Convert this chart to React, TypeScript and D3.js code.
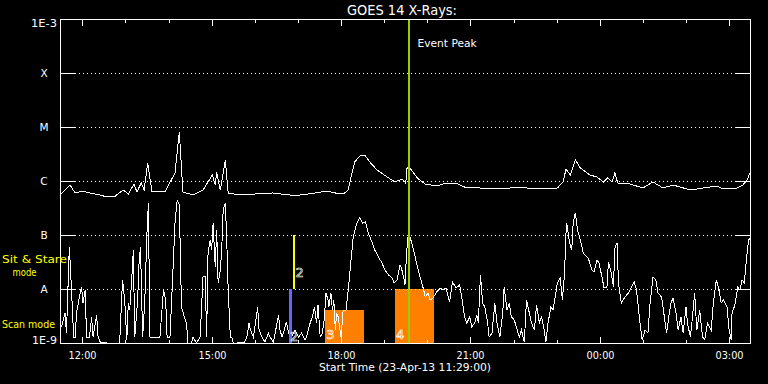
import React from "react";
import * as d3 from "d3";

// ---- data ----
const START = Date.UTC(2013, 3, 23, 11, 29, 0);
const DURATION_MIN = 960;

// GOES long channel (1-8 A), minutes since start / flux W m^-2
const longTime = [1,14,21,31,42,56,65,77,88,95,103,107,113,117,122,128,146,160,166,171,185,199,212,216,218,223,230,234,250,271,296,320,334,355,372,383,394,401,404,410,417,424,431,441,455,466,476,481,483,487,497,508,525,533,550,566,584,602,626,650,668,692,700,704,710,717,724,737,747,756,762,768,772,776,793,811,825,839,853,877,895,914,922,942,950,956,960];
const longFlux = [5.74e-7,8.43e-7,6.0e-7,6.53e-7,6.0e-7,5.5e-7,5.06e-7,5.27e-7,6.81e-7,5.74e-7,
8.8e-7,6.26e-7,9.18e-7,6.81e-7,2.15e-6,6.26e-7,6.26e-7,1.41e-6,8.1e-6,6.26e-7,
5.5e-7,6.81e-7,1.29e-6,8.43e-7,1.47e-6,6.81e-7,2.45e-6,6.0e-7,5.5e-7,5.74e-7,
6.0e-7,5.5e-7,5.5e-7,6.0e-7,6.53e-7,6.0e-7,5.74e-7,6.81e-7,1.04e-6,2.25e-6,
2.9e-6,3.03e-6,2.25e-6,1.6e-6,1.19e-6,9.58e-7,1.09e-6,9.18e-7,1.82e-6,1.74e-6,
1.14e-6,8.8e-7,8.08e-7,8.8e-7,9.18e-7,7.42e-7,7.42e-7,7.11e-7,7.42e-7,7.42e-7,
7.11e-7,7.42e-7,9.58e-7,1.67e-6,1.29e-6,2.45e-6,1.74e-6,1.29e-6,1.19e-6,9.58e-7,
1.14e-6,9.58e-7,1.41e-6,9.18e-7,8.8e-7,7.42e-7,9.58e-7,7.42e-7,8.43e-7,6.81e-7,
7.42e-7,8.08e-7,7.11e-7,7.42e-7,8.43e-7,1.04e-6,1.41e-6];

// GOES short channel (0.5-4 A)
const shortTime = [2,7,9,13,16,19,21,23,28,30,32,35,37,41,44,46,51,53,56,65,83,87,90,93,95,97,100,102,104,108,110,112,115,118,121,123,125,129,135,139,144,147,149,153,158,160,163,166,169,173,176,178,183,185,190,195,199,202,204,206,209,211,213,216,218,220,223,225,227,230,232,234,237,239,241,246,
257,260,263,265,269,272,275,277,281,285,290,292,297,302,304,306,309,312,315,318,322,327,332,336,341,343,348,351,354,357,359,362,365,368,370,373,374,377,379,381,383,385,387,391,394,398,401,404,408,413,417,421,425,429,434,438,443,448,452,457,462,465,469,473,475,478,480,482,484,487,492,
496,501,506,508,512,515,519,524,529,533,537,542,546,551,556,559,563,566,570,573,577,580,582,585,588,591,595,597,601,605,608,612,616,618,622,625,628,632,635,639,642,646,649,653,656,660,663,667,670,673,676,679,683,686,689,692,696,699,702,704,705,709,712,714,717,720,724,728,733,
735,740,743,747,750,754,757,761,763,767,770,772,775,777,781,786,791,795,799,802,807,810,814,818,821,825,829,832,837,842,844,847,850,853,857,860,864,867,871,873,877,880,883,886,890,894,897,901,906,909,913,916,920,923,928,931,934,935,939,943,946,949,952,955,958,960];
const shortFlux = [1.98e-9,3.59e-9,1.53e-9,6.0e-8,9.58e-9,1.29e-9,1.29e-9,3.59e-9,8.43e-9,1.09e-8,
5.5e-9,9.58e-9,1.29e-9,1.29e-9,3.03e-9,1.29e-9,3.3e-9,1.29e-9,1.04e-9,1.0e-9,
1.0e-9,1.47e-8,6.26e-9,1.14e-9,5.5e-9,4.08e-9,1.67e-8,5.27e-8,1.29e-9,6.26e-9,
3.03e-8,6.0e-8,1.29e-9,6.26e-9,1.09e-7,3.92e-7,1.29e-9,1.25e-9,1.29e-9,1.29e-9,
9.58e-9,6.26e-9,1.29e-9,1.29e-9,3.92e-8,1.67e-7,4.45e-7,3.59e-7,4.64e-9,3.03e-9,
2.35e-9,1.0e-9,1.0e-9,1.29e-9,1.0e-9,1.29e-9,1.67e-8,1.67e-8,1.29e-9,4.64e-8,
8.08e-8,5.27e-8,1.67e-7,2.56e-8,1.24e-7,1.29e-8,2.25e-8,5.27e-8,2.9e-7,3.92e-7,
8.08e-8,9.58e-9,1.29e-9,1.29e-9,1.0e-9,1.0e-9,
1.04e-9,1.29e-9,2.35e-9,1.74e-9,1.29e-9,2.35e-9,4.64e-9,1.74e-9,1.29e-9,1.04e-9,
1.53e-9,1.29e-9,1.04e-9,2.35e-9,3.3e-9,1.74e-9,1.29e-9,1.74e-9,2.45e-9,1.53e-9,
1.29e-9,1.74e-9,1.29e-9,1.53e-9,1.14e-9,1.29e-9,2.35e-9,3.03e-9,4.64e-9,2.35e-9,
5.06e-9,1.29e-9,1.53e-9,3.03e-9,8.43e-9,6.26e-9,4.64e-9,8.43e-9,4.08e-9,6.26e-9,
1.74e-9,3.59e-9,3.03e-9,1.29e-9,4.08e-9,4.08e-9,9.58e-9,2.56e-8,9.18e-8,1.67e-7,
2.06e-7,1.67e-7,1.74e-7,1.09e-7,7.42e-8,5.27e-8,3.92e-8,3.03e-8,2.25e-8,1.82e-8,
1.6e-8,1.29e-8,1.47e-8,2.78e-8,2.45e-8,1.67e-8,1.19e-8,4.26e-8,9.18e-8,9.18e-8,
5.27e-8,
3.03e-8,1.67e-8,9.58e-9,7.11e-9,8.43e-9,6.26e-9,6.81e-9,8.8e-9,1.04e-8,9.58e-9,
1.04e-8,5.74e-9,1.35e-8,1.04e-8,1.19e-8,7.11e-9,3.03e-9,2.35e-9,3.03e-9,1.98e-9,
2.35e-9,3.3e-9,2.35e-9,1.82e-8,5.5e-9,4.64e-9,2.35e-9,1.29e-9,1.53e-9,5.5e-9,
2.35e-9,1.29e-9,3.59e-9,1.09e-8,4.08e-9,5.5e-9,3.03e-9,2.67e-9,1.98e-9,1.29e-9,
1.74e-9,1.04e-9,6.26e-9,3.59e-9,2.35e-9,1.74e-9,5.06e-9,2.35e-9,3.03e-9,1.98e-9,
1.04e-9,2.35e-9,4.64e-9,4.08e-9,7.11e-9,1.29e-8,1.6e-8,6.26e-9,1.98e-8,1.09e-7,
1.67e-7,7.11e-8,5.27e-8,1.67e-7,2.56e-7,1.24e-7,8.08e-8,4.64e-8,3.92e-8,
3.75e-8,2.25e-8,2.06e-8,3.44e-8,3.03e-8,1.67e-8,1.04e-8,1.09e-8,3.16e-8,1.98e-8,
1.09e-8,5.74e-8,7.11e-8,1.29e-8,5.5e-9,7.11e-9,8.43e-9,1.09e-8,1.35e-8,9.58e-9,
2.35e-9,1.14e-9,1.74e-9,1.53e-9,5.5e-9,1.67e-8,1.47e-8,8.43e-9,7.11e-9,2.35e-9,
1.53e-9,3.03e-9,5.5e-9,6.81e-9,3.59e-9,1.74e-9,3.03e-9,1.53e-9,4.64e-9,2.35e-9,
1.29e-9,3.03e-9,8.43e-9,1.74e-9,4.08e-9,1.29e-9,1.14e-9,2.35e-9,1.74e-9,5.5e-9,
1.47e-8,1.09e-8,5.5e-9,6.26e-9,4.64e-9,1.74e-9,1.14e-9,3.59e-9,5.06e-9,1.09e-8,
9.58e-9,1.47e-8,1.29e-8,3.44e-8,8.08e-8,8.8e-8];

const levelValues = [1e-9, 1e-8, 1e-7, 1e-6, 1e-5, 1e-4, 1e-3];
const levelLabels = ["1E-9", "A", "B", "C", "M", "X", "1E-3"];

// observation rectangles: label, start/end minutes, top flux
const obsLabels = ["3", "4"];
const obsStart = [369, 466];
const obsEnd = [423, 520];
const obsTop = [4.0e-9, 1.0e-8];

// mode bars
const scanBarTime = 320; // 16:49
const scanBarRange = [1e-9, 1e-8];
const stareBarTime = 325; // 16:54
const stareBarRange = [1e-8, 1e-7];
const eventPeakTime = 485; // 19:34

const FONT = "'DejaVu Sans', sans-serif";

export default function App() {
  const W = 768, H = 384;
  const L = 60, R = 750, T = 19, B = 343;
  const toDate = (m: number) => new Date(START + m * 60000);
  const x = d3.scaleUtc().domain([toDate(0), toDate(DURATION_MIN)]).range([L, R]);
  const y = d3.scaleLog().domain([1e-9, 1e-3]).range([B, T]).clamp(true);
  const px = (m: number) => x(toDate(m));

  const line = d3.line<[number, number]>().x(d => px(d[0])).y(d => y(d[1]));
  const longPath = line(longTime.map((t, i) => [t, longFlux[i]] as [number, number])) || "";
  const shortPath = line(shortTime.map((t, i) => [t, shortFlux[i]] as [number, number])) || "";

  const hours = d3.utcHour.range(toDate(0), new Date(toDate(DURATION_MIN).getTime() + 1));
  const fmt = d3.utcFormat("%H:%M");

  const white = "#ffffff";
  const orange = "#ff8000";

  return (
    <svg width={W} height={H} style={{ position: "absolute", left: 0, top: 0, background: "#000", display: "block" }}>
      <rect x={0} y={0} width={W} height={H} fill="#000" />

      {/* observation rectangles */}
      {obsLabels.map((lab, i) => (
        <rect key={"r" + lab} x={px(obsStart[i])} y={y(obsTop[i])} width={px(obsEnd[i]) - px(obsStart[i])}
          height={y(1e-9) - y(obsTop[i])} fill={orange} shapeRendering="crispEdges" />
      ))}

      {/* grid dotted lines */}
      {levelValues.slice(1, 6).map(v => (
        <line key={"g" + v} x1={L + 15} x2={R - 14} y1={Math.round(y(v)) + 0.5} y2={Math.round(y(v)) + 0.5}
          stroke={white} strokeWidth={1} strokeDasharray="1 3" shapeRendering="crispEdges" />
      ))}

      {/* data */}
      <path d={shortPath} fill="none" stroke={white} strokeWidth={1} shapeRendering="crispEdges" />
      <path d={longPath} fill="none" stroke={white} strokeWidth={1} shapeRendering="crispEdges" />

      {/* mode bars */}
      <line x1={px(scanBarTime)} x2={px(scanBarTime)} y1={y(scanBarRange[0])} y2={y(scanBarRange[1])}
        stroke="#6464ff" strokeWidth={3} shapeRendering="crispEdges" />
      <line x1={px(stareBarTime)} x2={px(stareBarTime)} y1={y(stareBarRange[0])} y2={y(stareBarRange[1])}
        stroke="#ffff00" strokeWidth={2} shapeRendering="crispEdges" />

      {/* number labels */}
      <g fontFamily={FONT} fontSize={13} fill="none" stroke={white} strokeWidth={0.6}>
        <text x={px(stareBarTime) + 2} y={y(1e-8) - 12}>2</text>
        <text x={px(scanBarTime) + 0} y={y(1e-9) - 2}>2</text>
        {obsLabels.map((lab, i) => (
          <text key={"t" + lab} x={px(obsStart[i]) + 1} y={y(1e-9) - 4}>{lab}</text>
        ))}
      </g>

      {/* event peak */}
      <line x1={px(eventPeakTime)} x2={px(eventPeakTime)} y1={T} y2={B} stroke="#9acd00" strokeWidth={2} shapeRendering="crispEdges" />
      <text x={px(eventPeakTime) + 9} y={47} fill={white} fontFamily={FONT} fontSize={10.5} textLength={59} lengthAdjust="spacingAndGlyphs">Event Peak</text>

      {/* frame */}
      <rect x={L + 0.5} y={T + 0.5} width={R - L} height={B - T} fill="none" stroke={white} strokeWidth={1} shapeRendering="crispEdges" />

      {/* y ticks */}
      {levelValues.map(v => {
        const yy = Math.round(y(v)) + 0.5;
        return (
          <g key={"yt" + v}>
            <line x1={L} x2={L + 15} y1={yy} y2={yy} stroke={white} shapeRendering="crispEdges" />
            <line x1={R - 14} x2={R} y1={yy} y2={yy} stroke={white} shapeRendering="crispEdges" />
          </g>
        );
      })}
      {levelLabels.map((lab, i) => {
        const yy = y(levelValues[i]);
        if (i === 0) return <text key={lab} x={57} y={yy + 1} textAnchor="end" fill={white} fontFamily={FONT} fontSize={10.5} textLength={25} lengthAdjust="spacingAndGlyphs">{lab}</text>;
        if (i === levelLabels.length - 1) return <text key={lab} x={57} y={yy + 8} textAnchor="end" fill={white} fontFamily={FONT} fontSize={10.5} textLength={26} lengthAdjust="spacingAndGlyphs">{lab}</text>;
        return <text key={lab} x={44} y={yy + 4} textAnchor="middle" fill={white} fontFamily={FONT} fontSize={10.5}>{lab}</text>;
      })}

      {/* x ticks */}
      {hours.map(h => {
        const xx = Math.round(x(h)) + 0.5;
        const major = h.getUTCHours() % 3 === 0;
        const len = major ? 7 : 4;
        return (
          <g key={"xt" + h.getTime()}>
            <line x1={xx} x2={xx} y1={T} y2={T + len} stroke={white} shapeRendering="crispEdges" />
            <line x1={xx} x2={xx} y1={B + 1} y2={B + 1 - len} stroke={white} shapeRendering="crispEdges" />
            {major && (
              <text x={xx} y={358.5} textAnchor="middle" fill={white} fontFamily={FONT} fontSize={10} textLength={28} lengthAdjust="spacingAndGlyphs">{fmt(h)}</text>
            )}
          </g>
        );
      })}

      {/* titles */}
      <text x={402} y={14.5} textAnchor="middle" fill={white} fontFamily={FONT} fontSize={13.5} textLength={110} lengthAdjust="spacingAndGlyphs">GOES 14 X-Rays:</text>
      <text x={405} y={371} textAnchor="middle" fill={white} fontFamily={FONT} fontSize={10} textLength={172} lengthAdjust="spacingAndGlyphs">Start Time (23-Apr-13 11:29:00)</text>

      {/* mode labels */}
      <g fill="#ffff00" fontFamily={FONT} fontSize={11}>
        <text x={2} y={262.5} textLength={65} lengthAdjust="spacingAndGlyphs">Sit &amp; Stare</text>
        <text x={12.5} y={276} textLength={24} lengthAdjust="spacingAndGlyphs">mode</text>
        <text x={2} y={327.5} textLength={53} lengthAdjust="spacingAndGlyphs">Scan mode</text>
      </g>
    </svg>
  );
}
